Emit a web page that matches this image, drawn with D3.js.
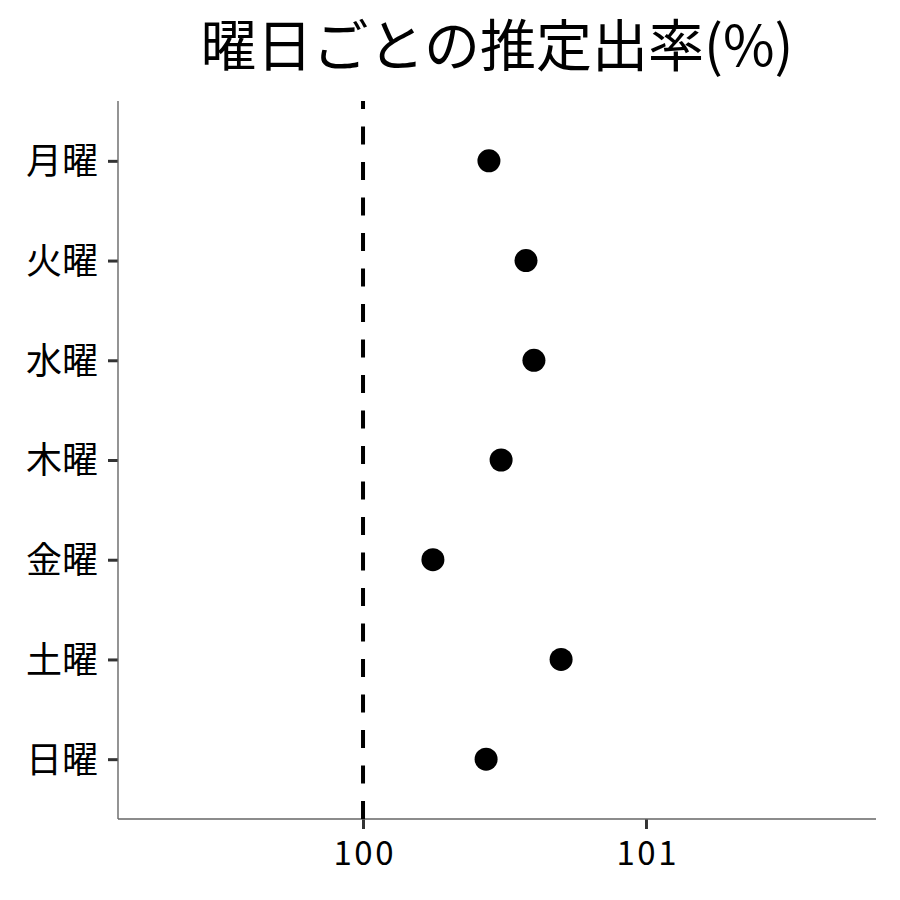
<!DOCTYPE html>
<html><head><meta charset="utf-8">
<script src="https://cdn.jsdelivr.net/npm/d3@7"></script>
<style>body{margin:0;background:#fff}svg{display:block}text{font-family:"Noto Sans CJK JP","Noto Sans",sans-serif}</style>
</head><body>
<svg id="c" width="900" height="900"></svg>
<script>
const days = ["月曜","火曜","水曜","木曜","金曜","土曜","日曜"];
const rates = [100.445, 100.576, 100.604, 100.488, 100.247, 100.700, 100.435];
const xTicks = [100, 101];
const refValue = 100;
const xDomain = [99.134, 101.813];
const title = "曜日ごとの推定出率(%)";

const W = 900, H = 900;
const m = {left:118, right:876, top:101, bottom:819};
const svg = d3.select("#c");
svg.append("rect").attr("width",W).attr("height",H).attr("fill","#fff");

const x = d3.scaleLinear().domain(xDomain).range([m.left, m.right]);
const y = d3.scalePoint().domain(days).range([m.top, m.bottom]).padding(0.6);

// axes
const xAxis = svg.append("g").attr("transform",`translate(0,${m.bottom})`)
  .call(d3.axisBottom(x).tickValues(xTicks).tickFormat(d3.format("d")).tickSize(10).tickSizeOuter(0));
const yAxis = svg.append("g").attr("transform",`translate(${m.left},0)`)
  .call(d3.axisLeft(y).tickSize(10).tickSizeOuter(0));
[xAxis,yAxis].forEach(g=>{
  g.select(".domain").remove();
  g.selectAll(".tick line").attr("stroke","#333").attr("stroke-width",3);
  g.selectAll(".tick text").attr("fill","#000");
});
xAxis.selectAll(".tick text").attr("font-size",33).attr("letter-spacing",2.5).attr("dx",1.25).attr("dy","1.0em");
yAxis.selectAll(".tick text").attr("font-size",36).attr("dy","0.36em").attr("x",-20);

svg.append("line").attr("x1",m.left).attr("x2",m.right).attr("y1",m.bottom).attr("y2",m.bottom)
  .attr("stroke","#666").attr("stroke-width",1.4);
svg.append("line").attr("x1",m.left).attr("x2",m.left).attr("y1",m.top).attr("y2",m.bottom)
  .attr("stroke","#666").attr("stroke-width",1.4);

// reference line (dash from bottom)
svg.append("line").attr("x1",x(refValue)).attr("x2",x(refValue)).attr("y1",m.bottom).attr("y2",m.top)
  .attr("stroke","#000").attr("stroke-width",4).attr("stroke-dasharray","18,17.5");

// points
svg.append("g").selectAll("circle").data(days).join("circle")
  .attr("cx",(d,i)=>x(rates[i])).attr("cy",d=>y(d)).attr("r",11.5).attr("fill","#000");

svg.append("text").attr("x",(m.left+m.right)/2).attr("y",66).attr("text-anchor","middle")
  .attr("font-size",56).attr("fill","#000").text(title);
</script>
</body></html>
